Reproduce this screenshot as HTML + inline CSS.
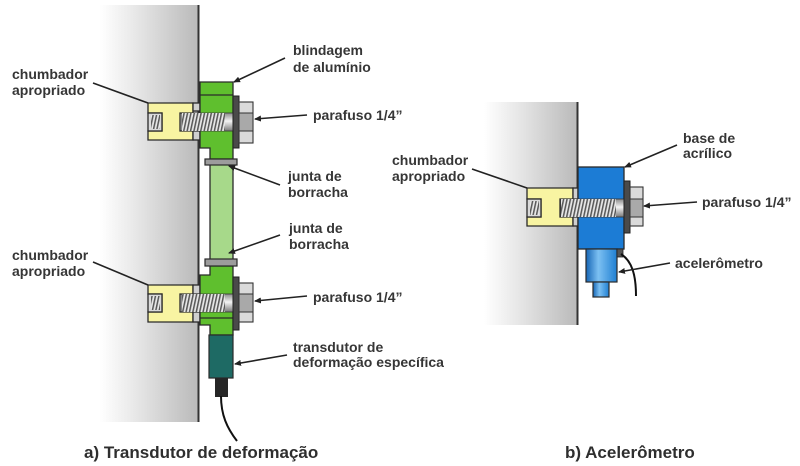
<!DOCTYPE html>
<html><head><meta charset="utf-8"><style>
html,body{margin:0;padding:0;background:#fff;}
svg{display:block;}
text{font-family:"Liberation Sans",Arial,sans-serif;font-weight:bold;fill:#363636;}
.l{font-size:14px;}
.c{font-size:17px;fill:#2e2e2e;}
</style></head><body>
<svg width="800" height="466" viewBox="0 0 800 466" xmlns="http://www.w3.org/2000/svg">
<defs>
<linearGradient id="wall" x1="0" x2="1" y1="0" y2="0">
<stop offset="0" stop-color="#ffffff"/><stop offset="0.35" stop-color="#e8e8e8"/><stop offset="1" stop-color="#b9b9b9"/>
</linearGradient>
<linearGradient id="bolt" x1="0" x2="0" y1="0" y2="1">
<stop offset="0" stop-color="#8a8a8a"/><stop offset="0.45" stop-color="#f4f4f4"/><stop offset="1" stop-color="#7a7a7a"/>
</linearGradient>
<pattern id="thr" width="3.4" height="20" patternUnits="userSpaceOnUse" patternTransform="skewX(-12)">
<rect width="3.4" height="20" fill="#e8e8e8"/><rect width="1.6" height="20" fill="#5a5a5a"/>
</pattern>
<linearGradient id="acc" x1="0" x2="1" y1="0" y2="0">
<stop offset="0" stop-color="#1565b5"/><stop offset="0.4" stop-color="#7cc0f2"/><stop offset="1" stop-color="#1f7fd2"/>
</linearGradient>
<marker id="ar" markerWidth="7" markerHeight="6" refX="6" refY="3" orient="auto" markerUnits="userSpaceOnUse">
<path d="M0,0 L7,3 L0,6 Z" fill="#222"/>
</marker>
</defs>

<!-- ===== LEFT PANEL ===== -->
<rect x="100" y="5" width="99" height="417" fill="url(#wall)"/>
<rect x="197.5" y="5" width="2" height="417" fill="#333"/>

<!-- upper anchor -->
<g stroke="#2a2a2a" stroke-width="1.3">
<path d="M148,103 H193 V113 H180 V131 H193 V140 H148 V131 H162 V113 H148 Z" fill="#f8f4a2"/>
<rect x="148" y="113" width="14" height="18" fill="#d9d9d9"/>
<rect x="193" y="103" width="7" height="8" fill="#cfcfcf"/>
<rect x="193" y="131" width="7" height="9" fill="#cfcfcf"/>
</g>
<rect x="151" y="115" width="9" height="14" fill="url(#thr)"/>

<!-- lower anchor -->
<g stroke="#2a2a2a" stroke-width="1.3">
<path d="M148,285 H193 V294 H180 V312 H193 V322 H148 V312 H162 V294 H148 Z" fill="#f8f4a2"/>
<rect x="148" y="294" width="14" height="18" fill="#d9d9d9"/>
<rect x="193" y="285" width="7" height="9" fill="#cfcfcf"/>
<rect x="193" y="312" width="7" height="10" fill="#cfcfcf"/>
</g>
<rect x="151" y="296" width="9" height="14" fill="url(#thr)"/>

<!-- middle bar -->
<rect x="210" y="163" width="23" height="98" fill="#a7d98a" stroke="#2a2a2a" stroke-width="1.3"/>

<!-- upper green block -->
<path d="M200,82 H233 V159 H210 V148 H200 Z" fill="#5fbf2e" stroke="#2a2a2a" stroke-width="1.3"/>
<line x1="200" y1="95" x2="233" y2="95" stroke="#2a2a2a" stroke-width="1.2"/>
<!-- lower green block -->
<path d="M210,266 H233 V335 H210 V325 H200 V275 H210 Z" fill="#5fbf2e" stroke="#2a2a2a" stroke-width="1.3"/>
<line x1="200" y1="318" x2="233" y2="318" stroke="#2a2a2a" stroke-width="1.2"/>

<!-- gaskets -->
<rect x="205" y="159" width="32" height="6" fill="#9c9c9c" stroke="#2a2a2a" stroke-width="1.2"/>
<rect x="205" y="259" width="32" height="7" fill="#9c9c9c" stroke="#2a2a2a" stroke-width="1.2"/>

<!-- upper bolt -->
<rect x="182" y="113" width="51" height="18" fill="url(#bolt)" stroke="#333" stroke-width="0.8"/>
<rect x="182" y="113" width="43" height="18" fill="url(#thr)"/>
<rect x="233" y="96" width="6" height="52" fill="#4a4a4a" stroke="#222" stroke-width="1"/>
<rect x="239" y="102" width="14" height="41" fill="#dadada" stroke="#333" stroke-width="1.1"/>
<rect x="239" y="113" width="14" height="18" fill="#a9a9a9" stroke="#333" stroke-width="1"/>

<!-- lower bolt -->
<rect x="182" y="294" width="51" height="18" fill="url(#bolt)" stroke="#333" stroke-width="0.8"/>
<rect x="182" y="294" width="43" height="18" fill="url(#thr)"/>
<rect x="233" y="277" width="6" height="53" fill="#4a4a4a" stroke="#222" stroke-width="1"/>
<rect x="239" y="283" width="14" height="39" fill="#dadada" stroke="#333" stroke-width="1.1"/>
<rect x="239" y="294" width="14" height="18" fill="#a9a9a9" stroke="#333" stroke-width="1"/>

<!-- transducer -->
<rect x="209" y="335" width="24" height="43" fill="#1e6a64" stroke="#2a2a2a" stroke-width="1.2"/>
<rect x="215" y="378" width="13" height="19" fill="#262626"/>
<path d="M221,396 C221,415 227,428 237,441" fill="none" stroke="#111" stroke-width="2"/>

<!-- left labels -->
<text class="l" x="12" y="79">chumbador</text>
<text class="l" x="12" y="95">apropriado</text>
<line x1="93" y1="83" x2="148" y2="103" stroke="#222" stroke-width="1.6"/>

<text class="l" x="12" y="260">chumbador</text>
<text class="l" x="12" y="276">apropriado</text>
<line x1="93" y1="262" x2="148" y2="285" stroke="#222" stroke-width="1.6"/>

<text class="l" x="293" y="55">blindagem</text>
<text class="l" x="293" y="72">de alumínio</text>
<line x1="285" y1="58" x2="234" y2="82" stroke="#222" stroke-width="1.6" marker-end="url(#ar)"/>

<text class="l" x="313" y="120">parafuso 1/4”</text>
<line x1="307" y1="115" x2="255" y2="119" stroke="#222" stroke-width="1.6" marker-end="url(#ar)"/>

<text class="l" x="288" y="181">junta de</text>
<text class="l" x="288" y="197">borracha</text>
<line x1="280" y1="185" x2="229" y2="166" stroke="#222" stroke-width="1.6" marker-end="url(#ar)"/>

<text class="l" x="289" y="233">junta de</text>
<text class="l" x="289" y="249">borracha</text>
<line x1="280" y1="235" x2="229" y2="253" stroke="#222" stroke-width="1.6" marker-end="url(#ar)"/>

<text class="l" x="313" y="302">parafuso 1/4”</text>
<line x1="307" y1="296" x2="255" y2="301" stroke="#222" stroke-width="1.6" marker-end="url(#ar)"/>

<text class="l" x="293" y="352">transdutor de</text>
<text class="l" x="293" y="367">deformação específica</text>
<line x1="287" y1="355" x2="235" y2="364" stroke="#222" stroke-width="1.6" marker-end="url(#ar)"/>

<!-- ===== RIGHT PANEL ===== -->
<rect x="484" y="102" width="94" height="223" fill="url(#wall)"/>
<rect x="576.5" y="102" width="2" height="223" fill="#333"/>

<g stroke="#2a2a2a" stroke-width="1.3">
<path d="M527,188 H573 V199 H560 V217 H573 V226 H527 V217 H541 V199 H527 Z" fill="#f8f4a2"/>
<rect x="527" y="199" width="14" height="18" fill="#d9d9d9"/>
<rect x="573" y="188" width="5" height="11" fill="#cfcfcf"/>
<rect x="573" y="217" width="5" height="9" fill="#cfcfcf"/>
</g>
<rect x="530" y="201" width="9" height="14" fill="url(#thr)"/>

<rect x="578" y="167" width="46" height="82" fill="#1c7cd5" stroke="#2a2a2a" stroke-width="1.3"/>
<rect x="561" y="199" width="63" height="18" fill="url(#bolt)" stroke="#333" stroke-width="0.8"/>
<rect x="561" y="199" width="55" height="18" fill="url(#thr)"/>
<rect x="624" y="181" width="6" height="52" fill="#4a4a4a" stroke="#222" stroke-width="1"/>
<rect x="630" y="187" width="13" height="39" fill="#dadada" stroke="#333" stroke-width="1.1"/>
<rect x="630" y="199" width="13" height="18" fill="#a9a9a9" stroke="#333" stroke-width="1"/>

<!-- accelerometer -->
<rect x="586" y="249" width="31" height="33" fill="url(#acc)" stroke="#2a2a2a" stroke-width="1.2"/>
<rect x="593" y="282" width="16" height="15" fill="url(#acc)" stroke="#2a2a2a" stroke-width="1.2"/>
<rect x="617" y="249" width="6" height="8" fill="#555" stroke="#222" stroke-width="0.8"/>
<path d="M621,254 C632,261 636,275 636,296" fill="none" stroke="#111" stroke-width="2"/>

<!-- right labels -->
<text class="l" x="392" y="165">chumbador</text>
<text class="l" x="392" y="181">apropriado</text>
<line x1="472" y1="169" x2="527" y2="188" stroke="#222" stroke-width="1.6"/>

<text class="l" x="683" y="143">base de</text>
<text class="l" x="683" y="158">acrílico</text>
<line x1="677" y1="145" x2="625" y2="167" stroke="#222" stroke-width="1.6" marker-end="url(#ar)"/>

<text class="l" x="702" y="207">parafuso 1/4”</text>
<line x1="697" y1="202" x2="644" y2="206" stroke="#222" stroke-width="1.6" marker-end="url(#ar)"/>

<text class="l" x="675" y="268">acelerômetro</text>
<line x1="670" y1="263" x2="619" y2="272" stroke="#222" stroke-width="1.6" marker-end="url(#ar)"/>

<!-- captions -->
<text class="c" x="84" y="458">a) Transdutor de deformação</text>
<text class="c" x="565" y="458">b) Acelerômetro</text>
</svg>
</body></html>
